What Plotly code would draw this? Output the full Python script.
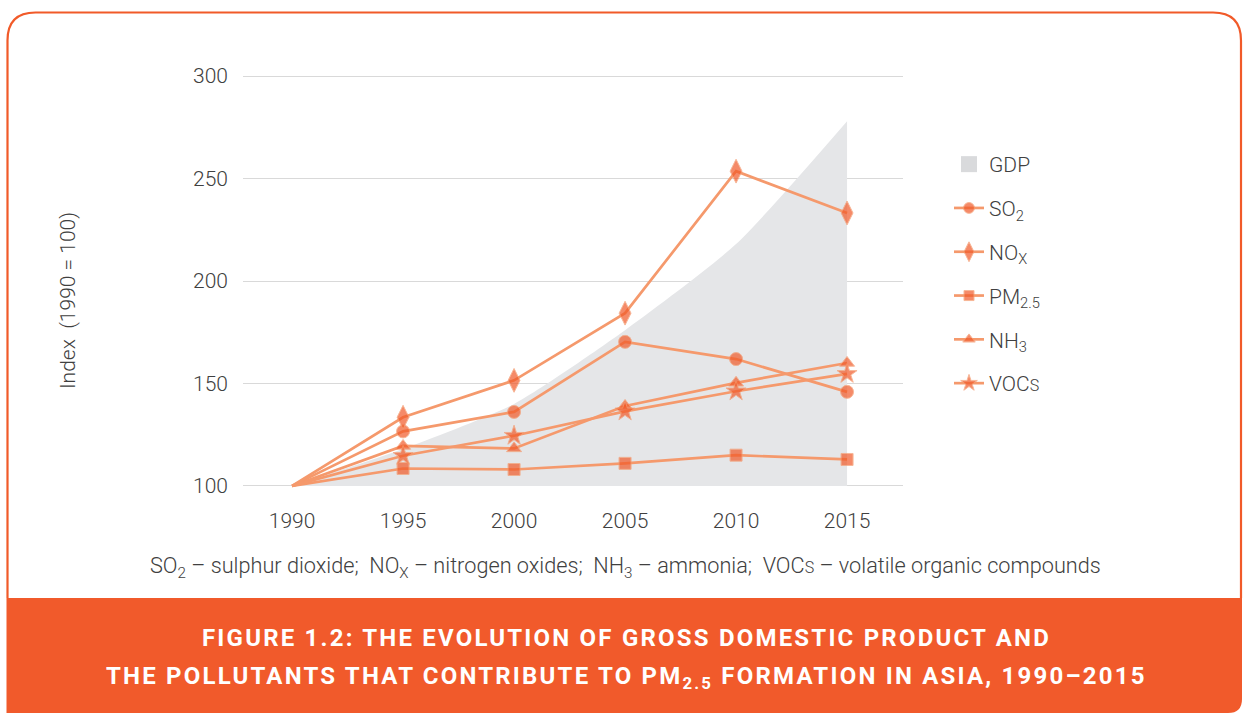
import plotly.graph_objects as go

years = [1990, 1995, 2000, 2005, 2010, 2015]
gdp = [100, 118, 140, 176, 218, 278]
so2 = [100, 126.6, 136.1, 170.3, 161.9, 145.9]
nox = [100, 133.5, 151.5, 184.3, 253.6, 233.2]
pm25 = [100, 108.5, 108.0, 111.0, 115.0, 112.9]
nh3 = [100, 119.5, 118.3, 139.0, 150.3, 160.0]
vocs = [100, 114.7, 124.5, 136.4, 146.2, 154.7]
y_ticks = [100, 150, 200, 250, 300]

W, H = 1244, 713
L, R, T, B = 243, 903, 72, 490
LINE = "#F5996C"
MARK = "#F15A29"
TXT = "#404040"
FONT = "Roboto"
FS = 21

def px(x):
    return (x - L) / (R - L)

def py(y):
    return (B - y) / (B - T)

fig = go.Figure()
fig.add_trace(go.Scatter(x=years, y=[100] * len(years), mode="lines",
                         line=dict(width=0), showlegend=False, hoverinfo="skip"))
fig.add_trace(go.Scatter(x=years, y=gdp, mode="lines", name="GDP", showlegend=False,
                         line=dict(width=0, shape="spline", smoothing=0.6),
                         fill="tonexty", fillcolor="#E5E6E8", hoverinfo="skip"))
fig.add_trace(go.Scatter(x=[None], y=[None], mode="markers", name="GDP",
                         marker=dict(symbol="square", size=19, color="#D9DADC"),
                         legendgroup="g0"))

series = [
    ("SO<sub>2</sub>", so2, "circle", 13),
    ("NO<sub>X</sub>", nox, "diamond-tall", 17),
    ("PM<sub>2.5</sub>", pm25, "square", 12),
    ("NH<sub>3</sub>", nh3, "triangle-up", 13),
    ("VOC<span style='font-size:16px'>S</span>", vocs, "star", 15),
]
for i, (name, vals, sym, sz) in enumerate(series):
    fig.add_trace(go.Scatter(
        x=years, y=vals, mode="lines+markers", name=name,
        line=dict(color=LINE, width=2.7),
        marker=dict(symbol=sym, size=[0] + [sz] * 5, color=MARK),
        legendgroup="g%d" % (i + 1)))

# frame
r = 28
x0, x1, y0, y1 = 7.5, 1241, 12.5, 598
fig.add_shape(type="path", xref="paper", yref="paper",
              path=(f"M {px(x0)},{py(y1)} L {px(x0)},{py(y0 + r)} "
                    f"Q {px(x0)},{py(y0)} {px(x0 + r)},{py(y0)} "
                    f"L {px(x1 - r)},{py(y0)} Q {px(x1)},{py(y0)} {px(x1)},{py(y0 + r)} "
                    f"L {px(x1)},{py(y1)}"),
              line=dict(color="#F15A29", width=2.2), layer="below")
# banner
bx0, bx1, by0, by1 = 6.5, 1242, 598, 713
rr = 14
fig.add_shape(type="path", xref="paper", yref="paper",
              path=(f"M {px(bx0)},{py(by0)} L {px(bx1)},{py(by0)} "
                    f"L {px(bx1)},{py(by1 - rr)} Q {px(bx1)},{py(by1)} {px(bx1 - rr)},{py(by1)} "
                    f"L {px(bx0)},{py(by1)} Z"),
              fillcolor="#F15A2B", line=dict(width=0), layer="below")

LS = "letter-spacing:2.2px"
ann = dict(xref="paper", yref="paper", showarrow=False, xanchor="center", yanchor="middle")
fig.add_annotation(**ann, x=px(626), y=py(638), text=
                   f"<span style='{LS}'><b>FIGURE 1.2: THE EVOLUTION OF GROSS DOMESTIC PRODUCT AND</b></span>",
                   font=dict(family=FONT, size=24, color="white"))
fig.add_annotation(**ann, x=px(626), y=py(677), text=
                   f"<span style='{LS}'><b>THE POLLUTANTS THAT CONTRIBUTE TO PM<sub>2.5</sub> FORMATION IN ASIA, 1990–2015</b></span>",
                   font=dict(family=FONT, size=24, color="white"))
fig.add_annotation(**ann, x=px(625), y=py(567), text=
                   "SO<sub>2</sub> – sulphur dioxide;  NO<sub>X</sub> – nitrogen oxides;  "
                   "NH<sub>3</sub> – ammonia;  VOC<span style='font-size:16px'>S</span> – volatile organic compounds",
                   font=dict(family=FONT, size=21.7, color=TXT, weight=300))
fig.add_annotation(**ann, x=px(68), y=py(301), text="Index  (1990 = 100)",
                   textangle=-90, font=dict(family=FONT, size=FS, color=TXT, weight=300))

fig.update_layout(
    width=W, height=H, margin=dict(l=L, r=W - R, t=T, b=H - B, pad=0),
    paper_bgcolor="white", plot_bgcolor="white",
    font=dict(family=FONT, size=FS, color=TXT, weight=300),
    xaxis=dict(range=[1987.79, 2017.52], tickvals=years, showgrid=False, zeroline=False,
               ticklabelstandoff=16, tickfont=dict(size=FS, color=TXT, weight=300)),
    yaxis=dict(range=[98, 302], tickvals=y_ticks, showgrid=True, gridcolor="#D9D9D9",
               gridwidth=1, zeroline=False, ticklabelstandoff=14,
               tickfont=dict(size=FS, color=TXT, weight=300)),
    legend=dict(x=px(949), y=py(144), xanchor="left", yanchor="top",
                font=dict(family=FONT, size=FS, color=TXT, weight=300), tracegroupgap=13.5,
                itemwidth=30, bgcolor="rgba(0,0,0,0)"),
    showlegend=True,
)
fig.write_html("out.html", config={"displayModeBar": False},
               post_script="document.body.style.margin='0';")
